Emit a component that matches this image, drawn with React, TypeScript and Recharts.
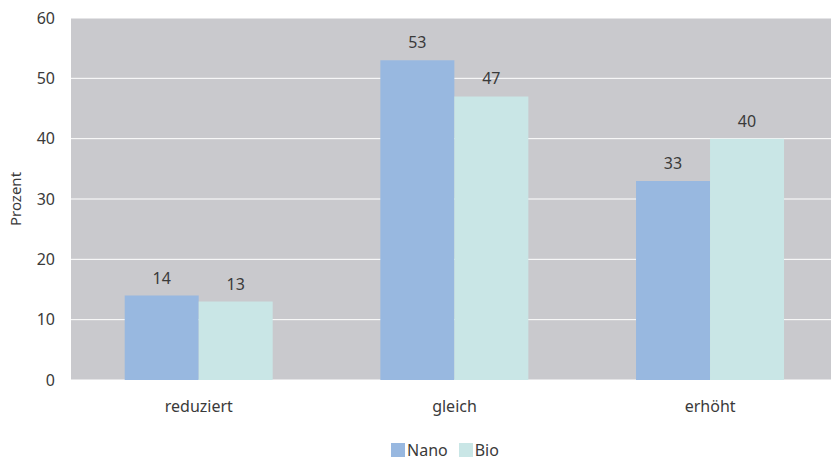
import React from 'react';
import { BarChart, Bar, XAxis, YAxis, CartesianGrid, Legend, LabelList } from 'recharts';

const categories = ['reduziert', 'gleich', 'erhöht'];
const nanoValues = [14, 53, 33];
const bioValues = [13, 47, 40];
const yTicks = [0, 10, 20, 30, 40, 50, 60];

const NANO = '#98b8e0';
const BIO = '#c9e6e6';
const TEXT = '#3a3a3a';
const FONT = '"Noto Sans", sans-serif';

const data = categories.map((name, i) => ({ name, Nano: nanoValues[i], Bio: bioValues[i] }));

const LegendContent = () => (
  <div style={{ display: 'flex', alignItems: 'flex-end', height: 40, paddingLeft: 391, fontFamily: FONT, fontSize: 16, color: TEXT }}>
    {[{ name: 'Nano', color: NANO }, { name: 'Bio', color: BIO }].map((item) => (
      <div key={item.name} style={{ display: 'flex', alignItems: 'center', marginRight: 11, lineHeight: '20px' }}>
        <span style={{ display: 'inline-block', width: 14, height: 14, background: item.color, marginRight: 2 }} />
        {item.name}
      </div>
    ))}
  </div>
);

export default function App() {
  return (
    <div style={{ position: 'absolute', left: 0, top: 0, width: 831, height: 462, overflow: 'hidden', background: '#fff' }}>
      <BarChart
        width={831}
        height={462}
        data={data}
        margin={{ top: 18, right: -7, left: 0, bottom: 2 }}
        barCategoryGap="21%"
        barGap={0}
        style={{ overflow: 'hidden' }}
      >
        <CartesianGrid vertical={false} stroke="#ffffff" strokeWidth={1} fill="#c9c9cd" />
        <XAxis
          dataKey="name"
          axisLine={false}
          tickLine={false}
          tickSize={0}
          tickMargin={21}
          height={40}
          tick={{ fill: TEXT, fontSize: 16, fontFamily: FONT }}
        />
        <YAxis
          domain={[0, 60]}
          ticks={yTicks}
          axisLine={false}
          tickLine={false}
          tickSize={0}
          tickMargin={16}
          width={71}
          tick={{ fill: TEXT, fontSize: 16, fontFamily: FONT }}
          label={{
            content: () => (
              <text
                x={15}
                y={199}
                transform="rotate(-90 15 199)"
                textAnchor="middle"
                dominantBaseline="central"
                fill={TEXT}
                fontSize={15}
                fontFamily={FONT}
              >
                Prozent
              </text>
            ),
          }}
        />
        <Legend verticalAlign="bottom" height={40} content={<LegendContent />} />
        <Bar dataKey="Nano" fill={NANO} isAnimationActive={false}>
          <LabelList dataKey="Nano" position="top" offset={12} fill={TEXT} fontSize={16} fontFamily={FONT} />
        </Bar>
        <Bar dataKey="Bio" fill={BIO} isAnimationActive={false}>
          <LabelList dataKey="Bio" position="top" offset={12} fill={TEXT} fontSize={16} fontFamily={FONT} />
        </Bar>
      </BarChart>
    </div>
  );
}
